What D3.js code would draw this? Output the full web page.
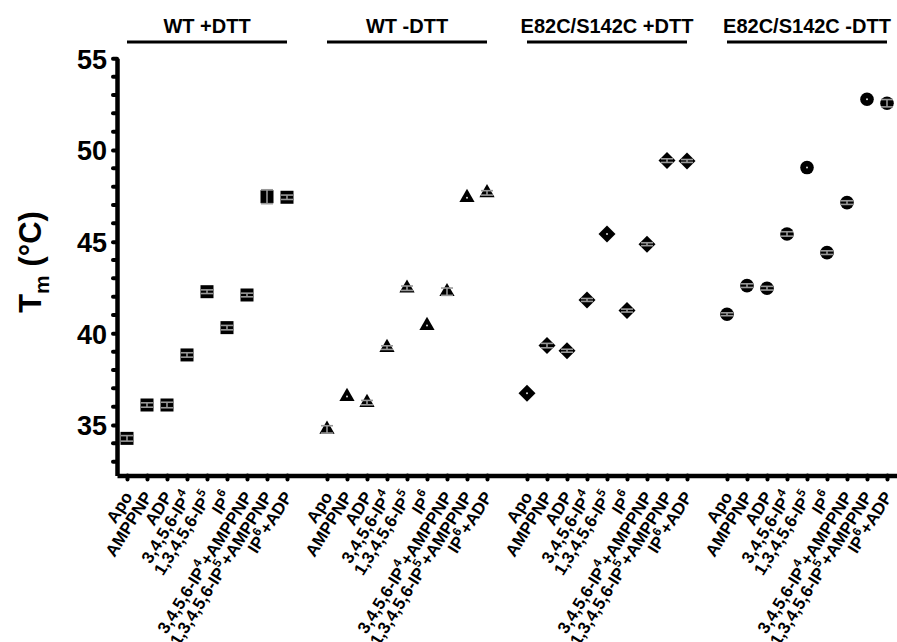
<!DOCTYPE html>
<html>
<head>
<meta charset="utf-8">
<script src="https://cdn.jsdelivr.net/npm/d3@7"></script>
<style>
  body { margin: 0; background: #fff; }
  text { font-family: "Liberation Sans", Arial, sans-serif; font-weight: bold; fill: #000; }
</style>
</head>
<body>
<svg id="chart"></svg>
<script>
// groups, marker shape per group and x categories
const groups = ['WT +DTT', 'WT -DTT', 'E82C/S142C +DTT', 'E82C/S142C -DTT'];
const shapes = ['square', 'triangle', 'diamond', 'circle'];
const categories = ['Apo', 'AMPPNP', 'ADP', '3,4,5,6-IP_4', '1,3,4,5,6-IP_5', 'IP_6',
  '3,4,5,6-IP_4+AMPPNP', '1,3,4,5,6-IP_5+AMPPNP', 'IP_6+ADP'];

// Tm values (°C) and error (SD) per group
const wtPlusDtt = [34.27, 36.09, 36.09, 38.82, 42.27, 40.31, 42.09, 47.45, 47.42];
const wtMinusDtt = [34.76, 36.55, 36.22, 39.22, 42.46, 40.42, 42.27, 47.40, 47.66];
const mutPlusDtt = [36.73, 39.33, 39.05, 41.82, 45.42, 41.24, 44.86, 49.42, 49.40];
const mutMinusDtt = [41.04, 42.60, 42.46, 45.42, 49.04, 44.40, 47.13, 52.77, 52.55];

const wtPlusErr = [0.15, 0.12, 0.15, 0.12, 0.10, 0.12, 0.10, 0.38, 0.12];
const wtMinusErr = [0.20, 0, 0.12, 0.10, 0.12, 0, 0.20, 0, 0.12];
const mutPlusErr = [0, 0.12, 0.08, 0.08, 0, 0.08, 0.08, 0.10, 0.08];
const mutMinusErr = [0.08, 0.10, 0.10, 0.12, 0, 0.10, 0.10, 0, 0.20];

const yTicks = [35, 40, 45, 50, 55];

const seriesValues = [wtPlusDtt, wtMinusDtt, mutPlusDtt, mutMinusDtt];
const seriesErrors = [wtPlusErr, wtMinusErr, mutPlusErr, mutMinusErr];

const width = 897, height = 642;
const svg = d3.select('#chart').attr('width', width).attr('height', height);

// slot index: group * 10 + category, one empty slot between groups
const xscale = d3.scaleLinear().domain([-0.5, 38.5]).range([117, 897]);
const yscale = d3.scaleLinear().domain([32.25, 55]).range([475.4, 58.3]);

// points
const points = [];
seriesValues.forEach((vals, g) => {
  vals.forEach((v, i) => {
    points.push({g: g, i: i, slot: g * 10 + i, value: v, err: seriesErrors[g][i], shape: shapes[g]});
  });
});

// y axis
const yaxis = d3.axisLeft(yscale).tickValues(yTicks).tickSize(4).tickSizeOuter(0).tickPadding(6);
const yg = svg.append('g').attr('transform', `translate(${xscale(-0.5)},0)`).call(yaxis);
yg.select('.domain').attr('stroke', '#000').attr('stroke-width', 4.5);
yg.selectAll('.tick line').attr('stroke-width', 4).attr('stroke-linecap', 'round');
yg.selectAll('.tick text').style('font-size', '27px').attr('dy', '0.36em');

// minor ticks every degree
const minor = d3.range(33, 55).filter(d => yTicks.indexOf(d) < 0);
svg.append('g').selectAll('line').data(minor).join('line')
  .attr('x1', xscale(-0.5)).attr('x2', xscale(-0.5) - 4)
  .attr('y1', d => yscale(d)).attr('y2', d => yscale(d))
  .attr('stroke', '#000').attr('stroke-width', 4).attr('stroke-linecap', 'round');

// y axis title
const ytitle = svg.append('text')
  .attr('transform', `translate(41,262) rotate(-90)`)
  .attr('text-anchor', 'middle')
  .style('font-size', '31px');
ytitle.append('tspan').text('T');
ytitle.append('tspan').text('m').style('font-size', '21px').attr('dy', 8);
ytitle.append('tspan').text(' (°C)').attr('dy', -8);

// x axis
const slots = [];
groups.forEach((g, gi) => categories.forEach((c, ci) => slots.push(gi * 10 + ci)));
const xaxis = d3.axisBottom(xscale).tickValues(slots).tickSize(4).tickSizeOuter(0).tickFormat('');
const xg = svg.append('g').attr('transform', `translate(0,${yscale(32.25)})`).call(xaxis);
xg.select('.domain').attr('stroke', '#000').attr('stroke-width', 4.5);
xg.selectAll('.tick line').attr('stroke-width', 4).attr('stroke-linecap', 'round');

// rotated category labels, "_" marks the raised index
slots.forEach(s => {
  const label = categories[s % 10];
  const t = svg.append('text')
    .attr('transform', `translate(${xscale(s) + 6},${yscale(32.25) + 21}) rotate(-58)`)
    .attr('text-anchor', 'end')
    .style('font-size', '17px');
  const parts = label.split('_');
  t.append('tspan').text(parts[0]);
  if (parts.length > 1) {
    t.append('tspan').text(parts[1][0]).style('font-size', '12px').attr('dy', -8);
    if (parts[1].length > 1) t.append('tspan').text(parts[1].slice(1)).attr('dy', 8);
  }
});

// group titles with bars
groups.forEach((g, gi) => {
  const x0 = xscale(gi * 10), x1 = xscale(gi * 10 + 8);
  svg.append('line')
    .attr('x1', x0).attr('x2', x1).attr('y1', 42).attr('y2', 42)
    .attr('stroke', '#000').attr('stroke-width', 3);
  svg.append('text')
    .attr('x', (x0 + x1) / 2).attr('y', 33)
    .attr('text-anchor', 'middle')
    .style('font-size', '20px')
    .text(g);
});

// markers
const symbolOf = {
  square: d3.symbol(d3.symbolSquare, 169),
  triangle: d3.symbol(d3.symbolTriangle, 100),
  diamond: d3.symbol(d3.symbolSquare, 144),
  circle: d3.symbol(d3.symbolCircle, 145)
};
const marks = svg.append('g').selectAll('g').data(points).join('g')
  .attr('transform', d => `translate(${xscale(d.slot)},${yscale(d.value)})`);

marks.append('path')
  .attr('d', d => symbolOf[d.shape]())
  .attr('transform', d => d.shape === 'diamond' ? 'rotate(45)' : null)
  .attr('fill', '#000');

// error bars drawn over the markers
const capw = 6;
marks.filter(d => d.err > 0).each(function(d) {
  const g = d3.select(this);
  const dy = yscale(d.value - d.err) - yscale(d.value);
  g.append('line').attr('x1', 0).attr('x2', 0).attr('y1', -dy).attr('y2', dy);
  g.append('line').attr('x1', -capw).attr('x2', capw).attr('y1', -dy).attr('y2', -dy);
  g.append('line').attr('x1', -capw).attr('x2', capw).attr('y1', dy).attr('y2', dy);
  g.selectAll('line').attr('stroke', '#999').attr('stroke-width', 1.6);
});
marks.filter(d => d.err === 0).append('circle')
  .attr('r', 1).attr('fill', '#ddd');
</script>
</body>
</html>
